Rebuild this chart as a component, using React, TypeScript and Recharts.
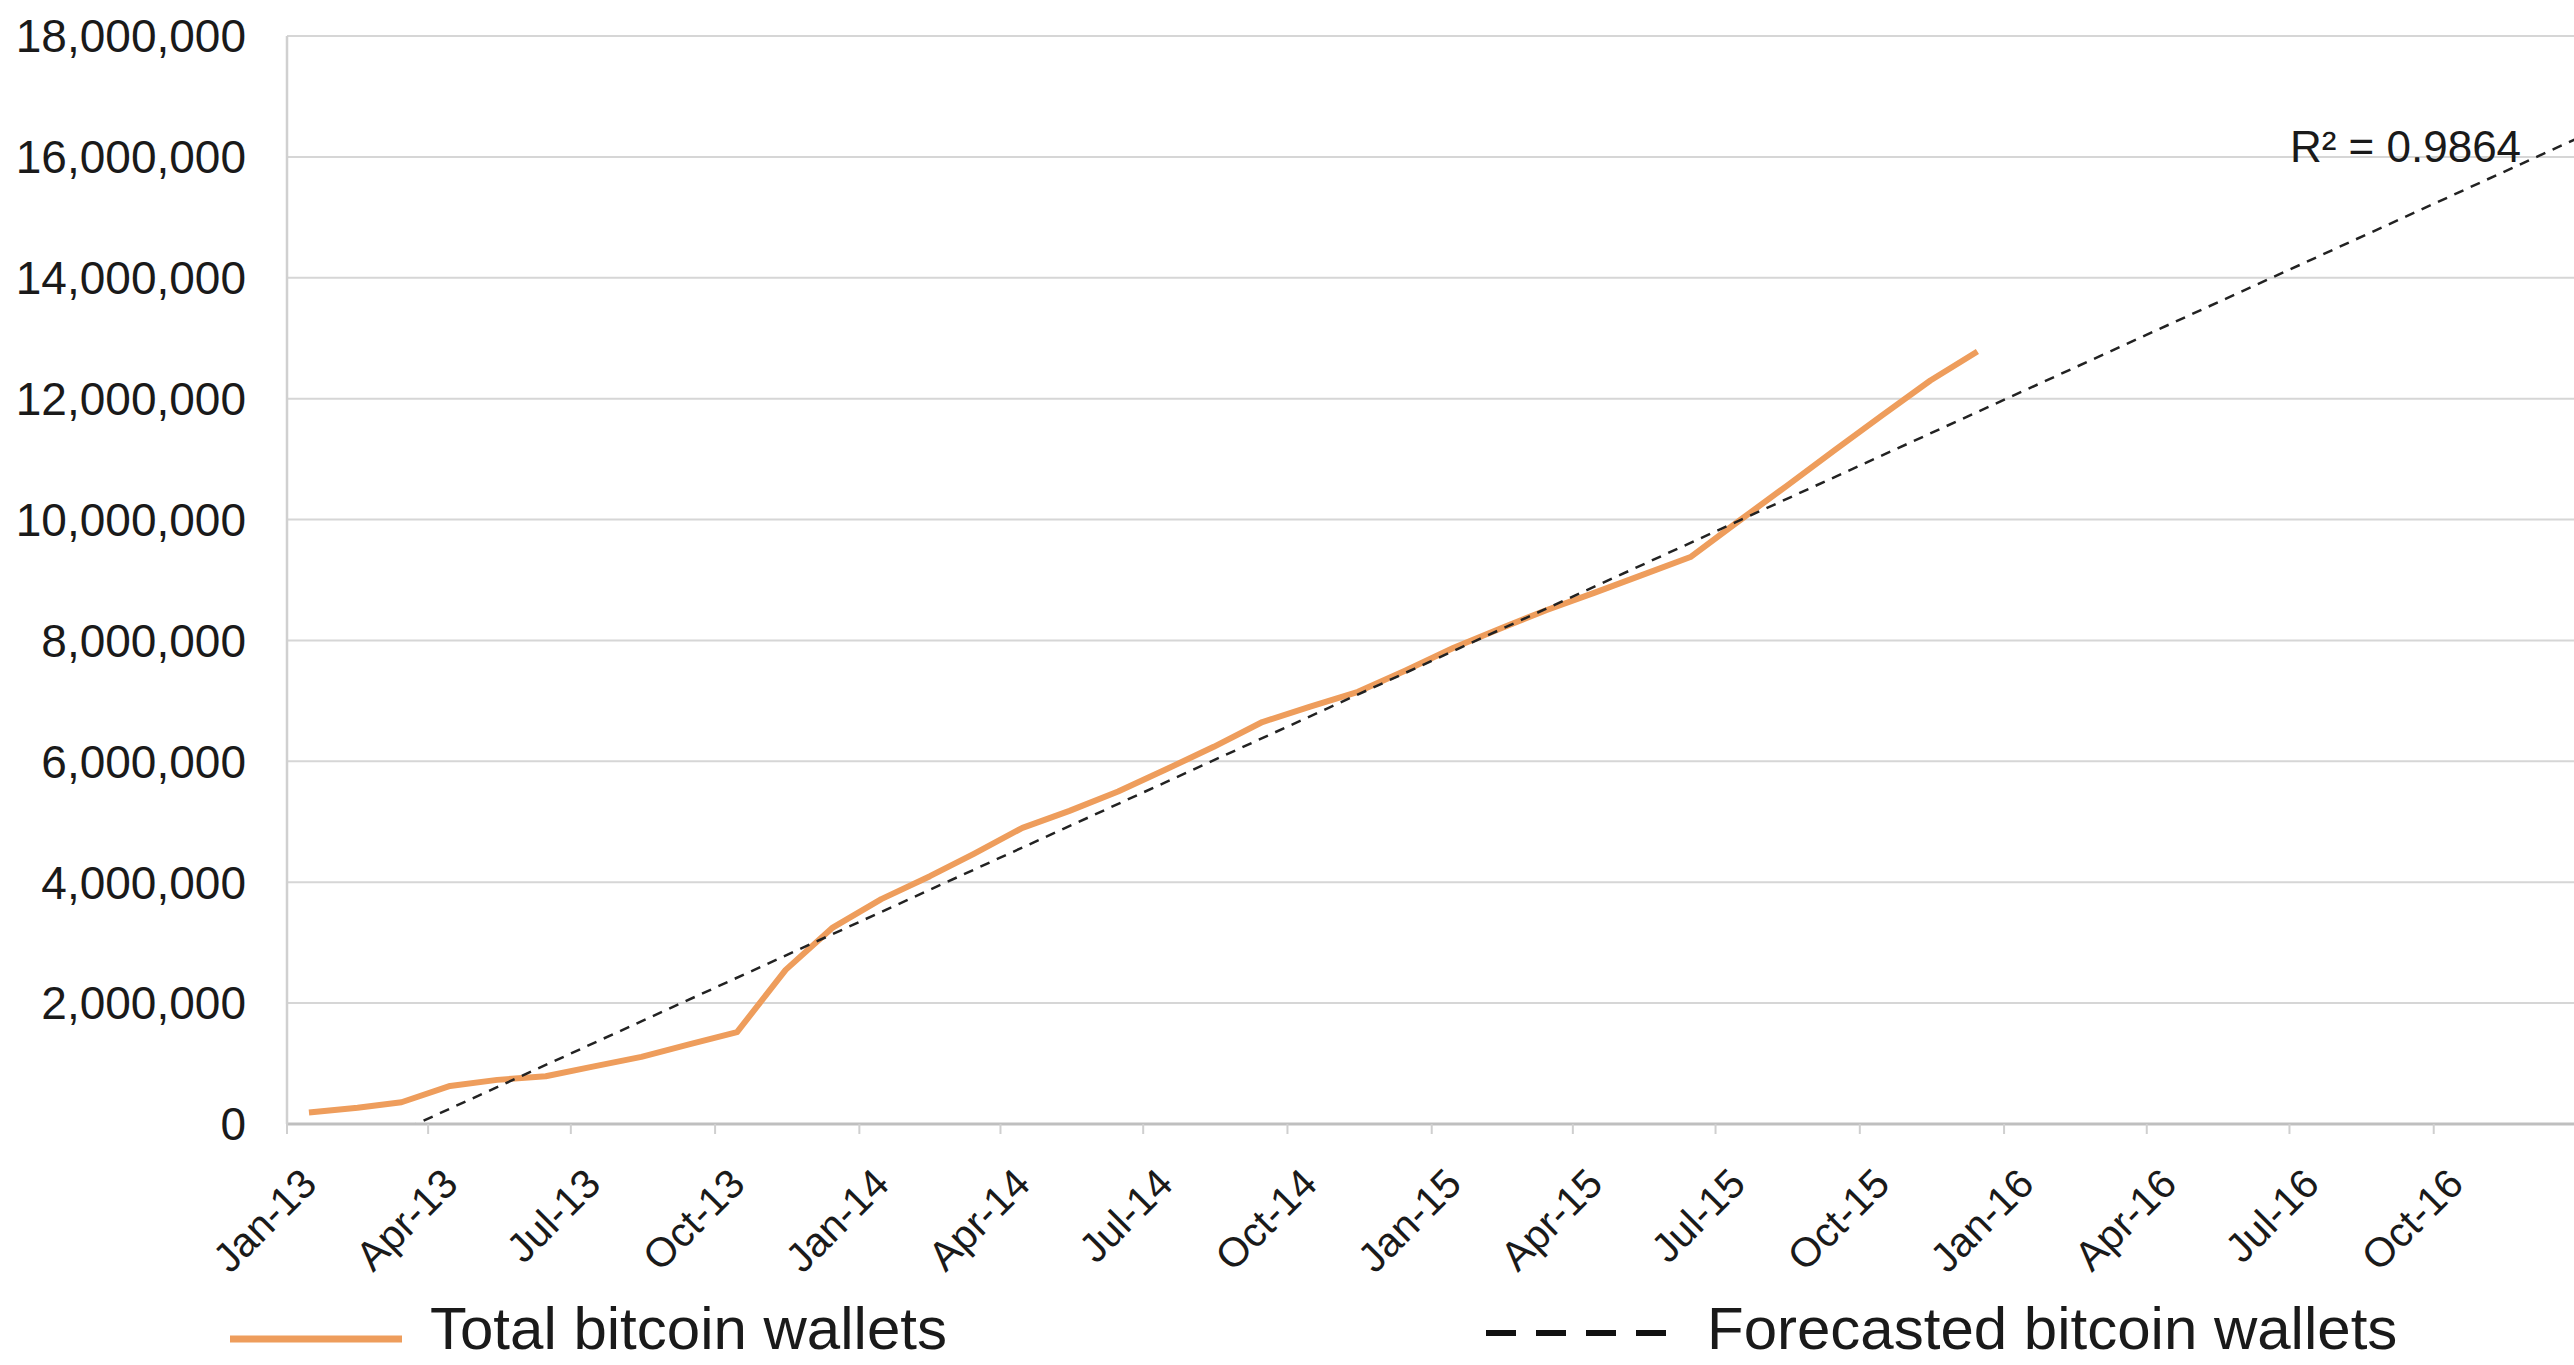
import React from "react";
import { LineChart, Line, XAxis, YAxis, CartesianGrid, Legend, ReferenceDot } from "recharts";

const FONT = "'Liberation Sans', Arial, Helvetica, sans-serif";
const ORANGE = "#EE9D5C";
const TEXT = "#1a1a1a";

// monthly observations (mid-month)
const monthDates = [
  "2013-01-15", "2013-02-15", "2013-03-15", "2013-04-15", "2013-05-15", "2013-06-15",
  "2013-07-15", "2013-08-15", "2013-09-15", "2013-10-15", "2013-11-15", "2013-12-15",
  "2014-01-15", "2014-02-15", "2014-03-15", "2014-04-15", "2014-05-15", "2014-06-15",
  "2014-07-15", "2014-08-15", "2014-09-15", "2014-10-15", "2014-11-15", "2014-12-15",
  "2015-01-15", "2015-02-15", "2015-03-15", "2015-04-15", "2015-05-15", "2015-06-15",
  "2015-07-15", "2015-08-15", "2015-09-15", "2015-10-15", "2015-11-15", "2015-12-15",
];
const totalWallets = [
  190000, 270000, 360000, 630000, 730000, 790000,
  950000, 1110000, 1320000, 1520000, 2550000, 3250000,
  3720000, 4100000, 4470000, 4900000, 5180000, 5500000,
  5860000, 6240000, 6650000, 6900000, 7150000, 7500000,
  7880000, 8210000, 8500000, 8790000, 9080000, 9380000,
  9960000, 10550000, 11150000, 11720000, 12300000, 12780000,
];

// linear trend (forecast), end points
const forecastDates = ["2013-01-15", "2016-12-31"];
const forecastWallets = [-810000, 16300000];

const tickDates = [
  "2013-01-01", "2013-04-01", "2013-07-01", "2013-10-01",
  "2014-01-01", "2014-04-01", "2014-07-01", "2014-10-01",
  "2015-01-01", "2015-04-01", "2015-07-01", "2015-10-01",
  "2016-01-01", "2016-04-01", "2016-07-01", "2016-10-01",
];
const tickLabels = [
  "Jan-13", "Apr-13", "Jul-13", "Oct-13", "Jan-14", "Apr-14", "Jul-14", "Oct-14",
  "Jan-15", "Apr-15", "Jul-15", "Oct-15", "Jan-16", "Apr-16", "Jul-16", "Oct-16",
];
const yTicks = [0, 2000000, 4000000, 6000000, 8000000, 10000000, 12000000, 14000000, 16000000, 18000000];

const rSquaredText = "R² = 0.9864";
const rSquaredAt = { date: "2016-09-13", value: 16180000 };

const AXIS_START = "2013-01-01";
const AXIS_END = "2017-01-01";

const dayOf = (s: string) => (Date.parse(s) - Date.parse(AXIS_START)) / 86400000;

const totalData = monthDates.map((d, i) => ({ t: dayOf(d), v: totalWallets[i] }));
const forecastData = forecastDates.map((d, i) => ({ t: dayOf(d), v: forecastWallets[i] }));
const tickDays = tickDates.map(dayOf);

function DateTick(props: any) {
  const { x, y, payload } = props;
  const i = tickDays.indexOf(payload.value);
  const ax = x + 32;
  const ay = y + 52;
  return (
    <text x={ax} y={ay} textAnchor="end" fontSize={41} fontFamily={FONT} fill={TEXT}
      transform={`rotate(-45 ${ax} ${ay})`}>
      {tickLabels[i]}
    </text>
  );
}

function WalletLegend() {
  return (
    <div style={{ position: "relative", width: 2580, height: 70, fontFamily: FONT, fontSize: 60, color: TEXT }}>
      <svg style={{ position: "absolute", left: 230, top: 0 }} width={175} height={70}>
        <line x1={0} x2={172} y1={44} y2={44} stroke={ORANGE} strokeWidth={7} />
      </svg>
      <span style={{ position: "absolute", left: 430, top: -1, lineHeight: "70px", whiteSpace: "nowrap" }}>
        Total bitcoin wallets
      </span>
      <svg style={{ position: "absolute", left: 1486, top: 0 }} width={185} height={70}>
        <line x1={0} x2={180} y1={38} y2={38} stroke="#111" strokeWidth={6} strokeDasharray="30 20" />
      </svg>
      <span style={{ position: "absolute", left: 1707, top: -1, lineHeight: "70px", whiteSpace: "nowrap" }}>
        Forecasted bitcoin wallets
      </span>
    </div>
  );
}

export default function App() {
  return (
    <div style={{ width: 2574, height: 1365, overflow: "hidden", background: "#fff" }}>
      <style>{`body{margin:0;overflow:hidden;background:#fff}`}</style>
      <LineChart width={2580} height={1365} margin={{ top: 36, right: 2, bottom: 0, left: 0 }}>
        <CartesianGrid horizontal vertical={false} stroke="#d6d6d6" strokeWidth={2} />
        <XAxis
          type="number"
          dataKey="t"
          domain={[0, dayOf(AXIS_END)]}
          ticks={tickDays}
          interval={0}
          allowDataOverflow
          height={171}
          tick={<DateTick />}
          tickSize={10}
          tickMargin={0}
          tickLine={{ stroke: "#cfcfcf", strokeWidth: 2 }}
          axisLine={{ stroke: "#bfbfbf", strokeWidth: 3 }}
        />
        <YAxis
          type="number"
          domain={[0, 18000000]}
          ticks={yTicks}
          interval={0}
          allowDataOverflow
          width={287}
          tickSize={0}
          tickMargin={41}
          tickLine={false}
          axisLine={{ stroke: "#d0d0d0", strokeWidth: 2.5 }}
          tick={{ fontSize: 46, fontFamily: FONT, fill: TEXT }}
          tickFormatter={(v: number) => v.toLocaleString("en-US")}
        />
        <Legend verticalAlign="bottom" height={70} content={<WalletLegend />}
          wrapperStyle={{ left: 0, width: 2580 }} />
        <Line
          data={totalData}
          dataKey="v"
          name="Total bitcoin wallets"
          type="linear"
          stroke={ORANGE}
          strokeWidth={6}
          strokeLinejoin="round"
          dot={false}
          isAnimationActive={false}
        />
        <Line
          data={forecastData}
          dataKey="v"
          name="Forecasted bitcoin wallets"
          type="linear"
          stroke="#222"
          strokeWidth={2.5}
          strokeDasharray="10 8"
          dot={false}
          isAnimationActive={false}
        />
        <ReferenceDot
          x={dayOf(rSquaredAt.date)}
          y={rSquaredAt.value}
          r={0}
          fill="none"
          stroke="none"
          label={{ value: rSquaredText, position: "center", fontSize: 44, fontFamily: FONT, fill: TEXT }}
        />
      </LineChart>
    </div>
  );
}
